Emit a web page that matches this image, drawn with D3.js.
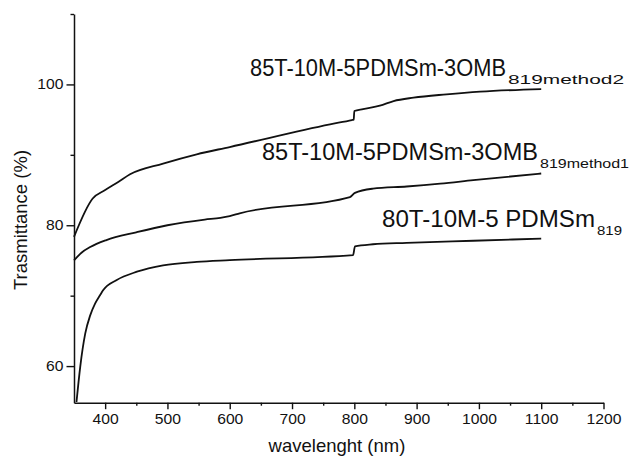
<!DOCTYPE html>
<html>
<head>
<meta charset="utf-8">
<script src="https://cdn.jsdelivr.net/npm/d3@7"></script>
<style>
  body { margin: 0; background: #fff; }
  svg { display: block; }
  text { font-family: "Liberation Sans", Arial, sans-serif; fill: #111; }
</style>
</head>
<body>
<svg id="grafico" width="630" height="461"></svg>
<script>
// wavelength (nm) and transmittance (%)
var wlMethod2 = [350, 380, 400, 421, 440, 493, 547, 600, 761, 796, 799, 800, 814, 841, 863, 895, 948, 1002, 1100];
var trMethod2 = [78.35, 83.8, 85.0, 86.15, 87.24, 88.76, 90.08, 91.11, 94.33, 94.94, 95.0, 96.22, 96.5, 96.98, 97.64, 98.12, 98.59, 98.97, 99.34];

var wlMethod1 = [350, 362, 376, 402, 450, 500, 560, 585, 600, 616, 793, 801, 830, 884, 938, 991, 1100];
var trMethod1 = [75.0, 76.1, 76.9, 77.9, 79.0, 80.0, 80.8, 81.05, 81.3, 81.7, 84.0, 84.6, 85.2, 85.5, 85.9, 86.4, 87.35];

var wlPdms = [354, 360, 368, 376, 384, 392, 397, 418, 451, 493, 547, 600, 798, 801, 830, 884, 991, 1100];
var trPdms = [54.9, 59.9, 64.6, 67.2, 68.9, 70.1, 70.8, 72.2, 73.4, 74.3, 74.8, 75.05, 75.75, 77.0, 77.3, 77.5, 77.8, 78.1];

var nombres = ["85T-10M-5PDMSm-3OMB", "85T-10M-5PDMSm-3OMB", "80T-10M-5 PDMSm"];
var subindices = ["819method2", "819method1", "819"];

var xMajor = [400, 500, 600, 700, 800, 900, 1000, 1100, 1200];
var xMinor = [450, 550, 650, 750, 850, 950, 1050, 1150];
var yMajor = [60, 80, 100];
var yMinor = [70, 90, 110];

// label placement: x, baseline, width of main text, width of subscript
var etiquetas = [
  {x: 250, y: 76, w: 256, ws: 116},
  {x: 262, y: 160, w: 276, ws: 89},
  {x: 382, y: 227, w: 213, ws: 25}
];

var datos = [[wlMethod2, trMethod2], [wlMethod1, trMethod1], [wlPdms, trPdms]];

var sv = d3.select("#grafico");

var x = d3.scaleLinear().domain([350, 1200]).range([74, 603.5]);
var y = d3.scaleLinear().domain([54.8, 110]).range([402.7, 14]);

// X AXIS
sv.append("g")
  .attr("class", "axis axis--x")
  .attr("transform", "translate(0," + y(54.8) + ")")
  .call(d3.axisBottom(x).tickValues(xMajor).tickSize(6.5).tickSizeOuter(0).tickPadding(5).tickFormat(d3.format("d")));
sv.append("g")
  .attr("transform", "translate(0," + y(54.8) + ")")
  .call(d3.axisBottom(x).tickValues(xMinor).tickSize(3).tickFormat(""))
  .select(".domain").remove();

// Y AXIS
sv.append("g")
  .attr("class", "axis axis--y")
  .attr("transform", "translate(" + x(350) + ",0)")
  .call(d3.axisLeft(y).tickValues(yMajor).tickSize(7.5).tickSizeOuter(0).tickPadding(2));
sv.append("g")
  .attr("transform", "translate(" + x(350) + ",0)")
  .call(d3.axisLeft(y).tickValues(yMinor).tickSize(3.5).tickFormat(""))
  .select(".domain").remove();

sv.selectAll(".domain").attr("stroke", "#111").attr("stroke-width", 1.5);
sv.selectAll(".tick line").attr("stroke", "#111").attr("stroke-width", 1.4);
sv.selectAll(".tick text")
  .style("font-family", "'Liberation Sans', Arial, sans-serif")
  .style("font-size", "14px")
  .attr("fill", "#222")
  .attr("transform", "scale(1.12,1)");

// axis titles
sv.append("text")
  .attr("x", 337)
  .attr("y", 452)
  .attr("text-anchor", "middle")
  .style("font-size", "18.5px")
  .text("wavelenght (nm)");

sv.append("text")
  .attr("transform", "translate(27,220) rotate(-90)")
  .attr("text-anchor", "middle")
  .style("font-size", "18.5px")
  .text("Trasmittance (%)");

// curves
var linea = d3.line()
  .x(function(d) { return x(d[0]); })
  .y(function(d) { return y(d[1]); })
  .curve(d3.curveMonotoneX);

for (var j = 0; j < datos.length; j++) {
  var wl = datos[j][0], tr = datos[j][1];
  var pts = wl.map(function(w, i) { return [w, tr[i]]; });
  sv.append("path")
    .datum(pts)
    .attr("d", linea)
    .attr("fill", "none")
    .attr("stroke", "#111")
    .attr("stroke-width", 1.8);

  var e = etiquetas[j];
  var t = sv.append("text")
    .attr("x", e.x)
    .attr("y", e.y)
    .style("font-size", "23px");
  t.append("tspan")
    .attr("textLength", e.w)
    .attr("lengthAdjust", "spacingAndGlyphs")
    .text(nombres[j]);
  t.append("tspan")
    .attr("x", e.x + e.w + 2)
    .attr("dy", 8)
    .attr("textLength", e.ws)
    .attr("lengthAdjust", "spacingAndGlyphs")
    .style("font-size", "13px")
    .text(subindices[j]);
}
</script>
</body>
</html>
